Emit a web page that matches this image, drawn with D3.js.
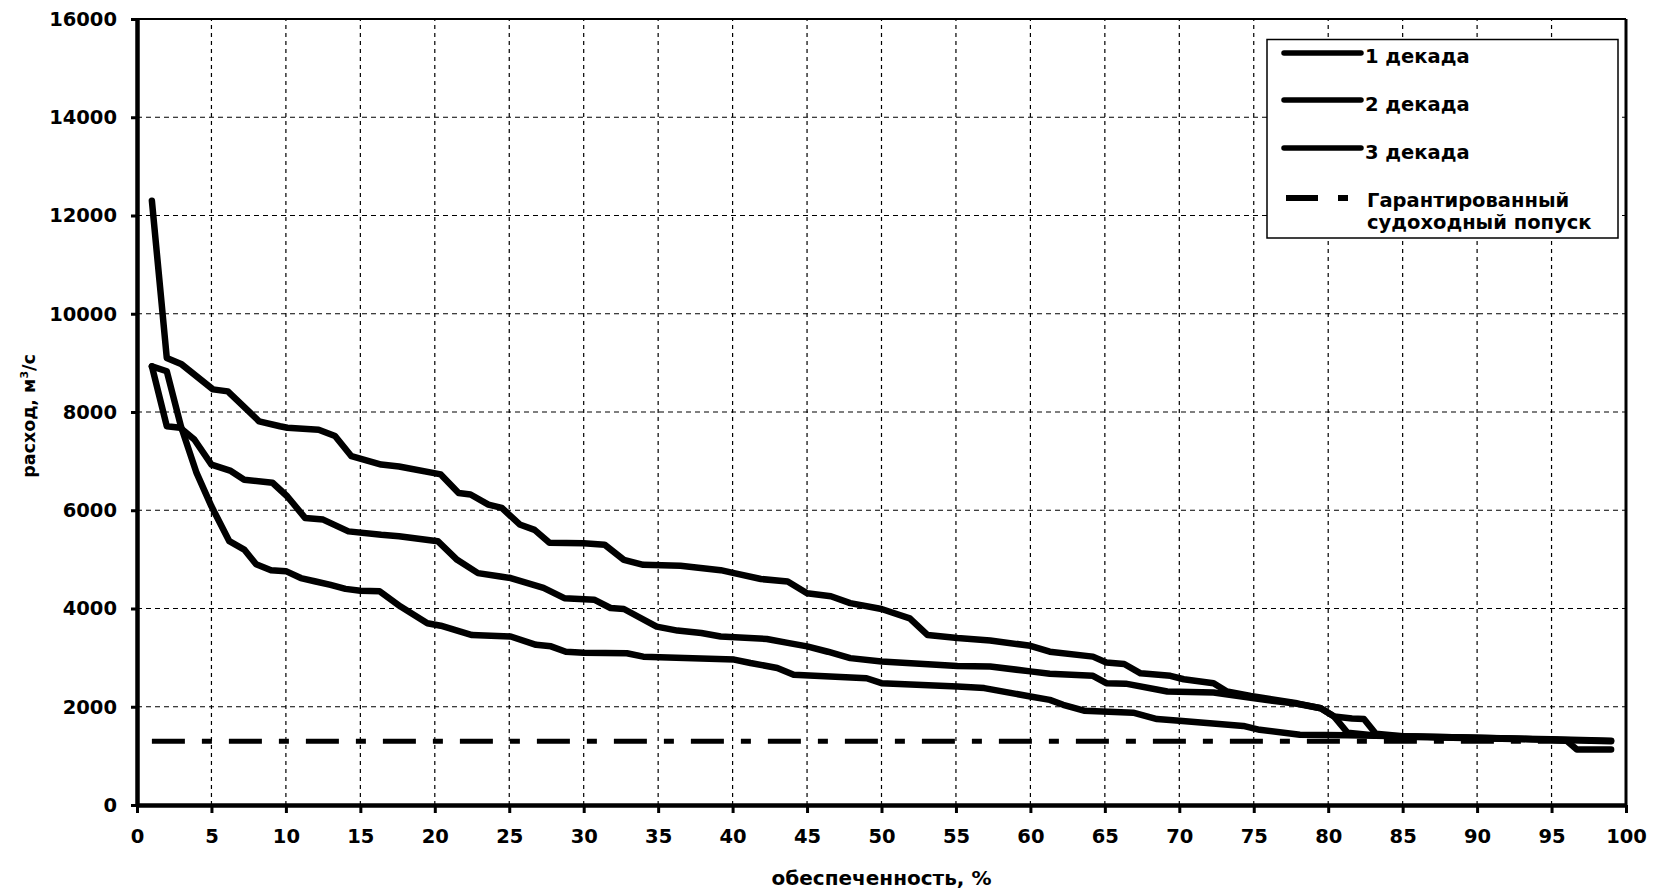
<!DOCTYPE html>
<html><head><meta charset="utf-8">
<script src="https://cdn.jsdelivr.net/npm/d3@7"></script>
<style>
html,body{margin:0;padding:0;background:#fff;}
svg text{font-family:"DejaVu Sans",sans-serif;font-weight:bold;fill:#000;}
</style></head><body>
<svg id="chart" width="1654" height="894"></svg>
<script>
// ---- data ----
const xTicks = [0,5,10,15,20,25,30,35,40,45,50,55,60,65,70,75,80,85,90,95,100];
const yTicks = [0,2000,4000,6000,8000,10000,12000,14000,16000];
const xTitle = "обеспеченность, %";
const yTitleMain = "расход, м";
const yTitleSup = "3";
const yTitleEnd = "/с";
const seriesNames = ["1 декада","2 декада","3 декада"];
const guaranteedName = ["Гарантированный","судоходный попуск"];

const decade1X = [1,2,3,5.1,6.1,8.2,9.6,10.1,12.2,13.3,14.4,16.4,17.6,20.4,21.6,22.4,23.6,24.5,25.7,26.7,27.7,30.0,31.4,32.7,34.0,36.5,39.2,40.1,41.9,43.7,45.0,46.6,47.9,50.0,51.9,53.1,55.1,57.3,60.0,61.3,64.2,65.1,66.3,67.4,69.4,70.3,72.3,73.2,74.8,77.9,79.5,80.4,81.6,82.4,83.2,85,90,95,99];
const decade1Y = [12300,9100,8970,8460,8420,7810,7710,7680,7640,7510,7100,6930,6890,6730,6350,6320,6115,6050,5710,5600,5340,5330,5300,4990,4890,4870,4780,4720,4600,4550,4310,4250,4110,3990,3800,3460,3400,3350,3240,3120,3020,2900,2870,2680,2630,2560,2480,2310,2220,2070,1970,1800,1760,1750,1450,1400,1370,1330,1300];

const decade2X = [1,2.0,2.9,3.85,5.0,6.3,7.2,9.1,10.1,11.3,12.5,14.2,16.4,17.6,20.2,21.5,22.9,24.4,25.1,27.3,28.7,30.7,31.8,32.7,34.9,36.3,37.9,39.2,42.3,43.7,45.0,46.4,47.9,50.0,55.1,57.3,60.0,61.3,64.2,65.1,66.4,69.2,72.3,74.8,77.9,79.5,80.4,81.3,83,85,90,95,96,96.7,99];
const decade2Y = [8930,7710,7680,7440,6930,6800,6620,6560,6280,5840,5810,5570,5500,5470,5370,4990,4720,4650,4620,4420,4210,4180,4010,3990,3630,3550,3500,3430,3380,3300,3230,3120,2990,2920,2830,2820,2720,2670,2630,2480,2470,2310,2290,2180,2060,1970,1800,1470,1420,1390,1360,1330,1310,1130,1130];

const decade3X = [1,2,2.95,4,5,6.2,7.2,8,9,10,11,12,13,14,15,16.3,17.7,19.5,20.4,22.5,25.1,26.8,27.8,28.8,30.0,32.9,34.0,40.1,41.2,43.0,44.1,49.0,50.0,55.1,56.9,60.0,61.3,62.2,63.6,66.9,68.5,69.8,74.3,75.4,78.1,81.3,85,90,95,99];
const decade3Y = [8930,8830,7710,6760,6080,5370,5200,4900,4780,4760,4620,4550,4480,4400,4360,4350,4040,3700,3650,3460,3430,3260,3230,3120,3100,3090,3020,2960,2890,2790,2650,2580,2480,2410,2380,2210,2140,2040,1920,1880,1750,1720,1610,1530,1430,1420,1400,1370,1340,1310];

const guaranteedX = [1,99];
const guaranteedY = [1300,1300];

// ---- layout ----
const L = 137, R = 1626, T = 19, B = 805;
const svg = d3.select("#chart");
const x = d3.scaleLinear().domain([0,100]).range([L,R]);
const y = d3.scaleLinear().domain([0,16000]).range([B,T]);

// gridlines
const grid = svg.append("g");
grid.selectAll("line.vg").data(xTicks.filter(d=>d>0&&d<100)).join("line")
  .attr("x1",d=>x(d)).attr("x2",d=>x(d)).attr("y1",y(0)).attr("y2",y(16000))
  .attr("stroke","#000").attr("stroke-width",1.2).attr("stroke-dasharray","4,4");
grid.selectAll("line.hg").data(yTicks.filter(d=>d>0&&d<16000)).join("line")
  .attr("x1",x(0)).attr("x2",x(100)).attr("y1",d=>y(d)).attr("y2",d=>y(d))
  .attr("stroke","#000").attr("stroke-width",1.2).attr("stroke-dasharray","5,4");

// frame top & right
svg.append("line").attr("x1",x(0)).attr("x2",x(100)).attr("y1",y(16000)).attr("y2",y(16000))
  .attr("stroke","#000").attr("stroke-width",2);
svg.append("line").attr("x1",x(100)).attr("x2",x(100)).attr("y1",y(16000)).attr("y2",y(0))
  .attr("stroke","#000").attr("stroke-width",3);

// axes
const fmt = d3.format("d");
const xAxis = svg.append("g").attr("transform",`translate(0,${B})`)
  .call(d3.axisBottom(x).tickValues(xTicks).tickFormat(fmt).tickSize(8).tickSizeOuter(0).tickPadding(16));
const yAxis = svg.append("g").attr("transform",`translate(${L},0)`)
  .call(d3.axisLeft(y).tickValues(yTicks).tickFormat(fmt).tickSize(6).tickSizeOuter(0).tickPadding(14));
[xAxis,yAxis].forEach(g=>{
  g.attr("font-family",null).attr("font-size",null);
  g.select(".domain").attr("stroke","#000").attr("stroke-width",4.5);
  g.selectAll(".tick line").attr("stroke","#000").attr("stroke-width",3);
  g.selectAll(".tick text").style("font-size","19.5px").attr("fill","#000");
});

// axis titles
svg.append("text").attr("x",(L+R)/2).attr("y",885).attr("text-anchor","middle")
  .style("font-size","20px").text(xTitle);
const yt = svg.append("text").attr("transform",`translate(35,${(T+B)/2+4}) rotate(-90)`)
  .attr("text-anchor","middle").style("font-size","17.5px");
yt.append("tspan").text(yTitleMain);
yt.append("tspan").attr("dy",-7).style("font-size","11px").text(yTitleSup);
yt.append("tspan").attr("dy",7).text(yTitleEnd);

// series
const line = d3.line().x(d=>x(d[0])).y(d=>y(d[1]));
const series = [
  d3.zip(decade1X,decade1Y),
  d3.zip(decade2X,decade2Y),
  d3.zip(decade3X,decade3Y)
];
svg.append("g").selectAll("path").data(series).join("path")
  .attr("d",line).attr("fill","none").attr("stroke","#000")
  .attr("stroke-width",6.5).attr("stroke-linejoin","round").attr("stroke-linecap","round");

svg.append("path").attr("d",line(d3.zip(guaranteedX,guaranteedY)))
  .attr("fill","none").attr("stroke","#000").attr("stroke-width",5)
  .attr("stroke-dasharray","33,17,10,17");

// legend
const lg = svg.append("g");
lg.append("rect").attr("x",1267).attr("y",39.5).attr("width",351).attr("height",198.5)
  .attr("fill","#fff").attr("stroke","#000").attr("stroke-width",1.5);
const rowsY = [53, 100, 148];
const rowsText = [63, 111, 159];
seriesNames.forEach((n,i)=>{
  lg.append("line").attr("x1",1284).attr("x2",1361).attr("y1",rowsY[i]).attr("y2",rowsY[i])
    .attr("stroke","#000").attr("stroke-width",5.5).attr("stroke-linecap","round");
  lg.append("text").attr("x",1365).attr("y",rowsText[i]).style("font-size","19.5px").text(n);
});
lg.append("line").attr("x1",1286).attr("x2",1350).attr("y1",198).attr("y2",198)
  .attr("stroke","#000").attr("stroke-width",6).attr("stroke-dasharray","32,20,10,20");
lg.append("text").attr("x",1367).attr("y",207).style("font-size","19.5px").text(guaranteedName[0]);
lg.append("text").attr("x",1367).attr("y",229).style("font-size","19.5px").text(guaranteedName[1]);
</script>
</body></html>
